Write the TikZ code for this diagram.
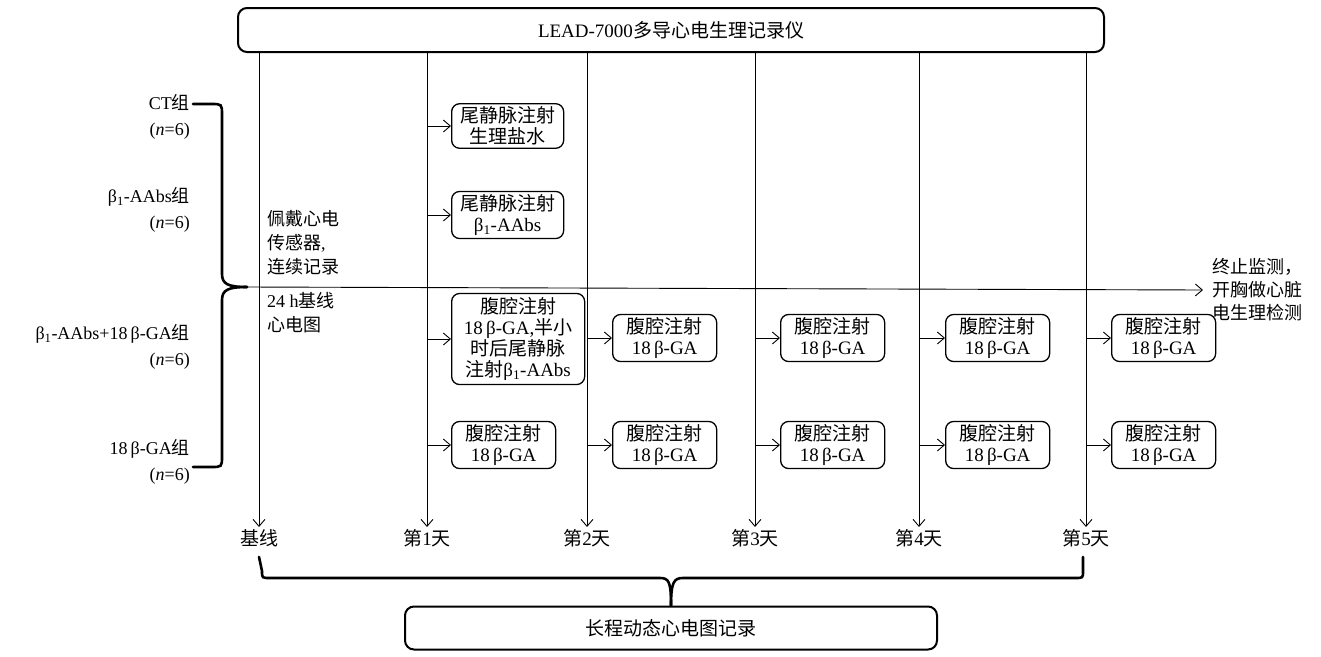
\documentclass[tikz,border=0pt]{standalone}
\usepackage{fontspec}
\setmainfont{Liberation Serif}
\newfontfamily\cjk{Noto Sans CJK SC}
\newcommand\zh[1]{{\cjk #1}}
\newcommand\bsub{β\textsubscript{1}}
\usetikzlibrary{arrows.meta}
\begin{document}
\begin{tikzpicture}[x=1pt,y=-1pt,
  font=\fontsize{19}{21}\selectfont,
  arr/.style={line width=0.9pt,-{Straight Barb[length=7pt,width=12pt]}},
  stepbox/.style={draw,line width=1.3pt,rounded corners=8pt,align=center,inner xsep=6pt,inner ysep=3pt,anchor=west},
  dbox/.style={stepbox,minimum width=104pt},
  bigbox/.style={draw,line width=2pt,rounded corners=9pt},
  brace/.style={line width=2.6pt,line cap=round},
  lbl/.style={align=right,anchor=east,inner sep=0pt,font=\fontsize{18}{26}\selectfont},
  day/.style={anchor=north,inner sep=2pt},
  note/.style={anchor=north west,align=left,inner sep=0pt,font=\fontsize{18}{24}\selectfont},
]
\useasboundingbox (0,0) rectangle (1321,656);

% top and bottom boxes
\node[bigbox,minimum width=866pt,minimum height=44pt] (top) at (671,30) {LEAD-7000\zh{多导心电生理记录仪}};
\node[bigbox,minimum width=532pt,minimum height=43pt] (rec) at (671,628) {\zh{长程动态心电图记录}};

% day labels
\node[day] (l0) at (259,527) {\zh{基线}};
\node[day] (l1) at (427,527) {\zh{第}1\zh{天}};
\node[day] (l2) at (587,527) {\zh{第}2\zh{天}};
\node[day] (l3) at (755,527) {\zh{第}3\zh{天}};
\node[day] (l4) at (919,527) {\zh{第}4\zh{天}};
\node[day] (l5) at (1086,527) {\zh{第}5\zh{天}};

\foreach \i in {0,...,5} \draw[arr] (top.south -| l\i) -- (l\i.north);

% left group labels
\node[lbl] (g1) at (190,117) {CT\zh{组}\\(\textit{n}=6)};
\node[lbl] (g2) at (190,210) {\bsub-AAbs\zh{组}\\(\textit{n}=6)};
\node[lbl] (g3) at (190,347) {\bsub-AAbs+18\,β-GA\zh{组}\\(\textit{n}=6)};
\node[lbl] (g4) at (190,462) {18\,β-GA\zh{组}\\(\textit{n}=6)};

% left brace
\coordinate (bt) at (247,287);
\draw[brace] (193,104) -- (211,104) .. controls (222,104) .. (222,115) -- (222,274)
  .. controls (222,284) and (228,287) .. (bt);
\draw[brace] (193,467) -- (211,467) .. controls (222,467) .. (222,456) -- (222,300)
  .. controls (222,290) and (228,287) .. (bt);

% notes
\node[note] (wear) at (267,210) {\zh{佩戴心电}\\\zh{传感器}, \\\zh{连续记录}};
\node[note] (base) at (267,292) {24 h\zh{基线}\\\zh{心电图}};
\node[anchor=west,align=left,inner xsep=9pt,inner ysep=0pt,font=\fontsize{18}{23}\selectfont] (end) at (1203,290) {\zh{终止监测，}\\\zh{开胸做心脏}\\\zh{电生理检测}};
\draw[arr] (bt) -- (end.west);

% day 1 boxes
\node[stepbox,minimum width=112pt] (a1) at (451,126) {\zh{尾静脉注射}\\\zh{生理盐水}};
\node[stepbox,minimum width=112pt] (a2) at (451,215) {\zh{尾静脉注射}\\\bsub-AAbs};
\node[stepbox,minimum width=133pt,inner ysep=4pt] (a3) at (451,339) {\zh{腹腔注射}\\18\,β-GA,\zh{半小}\\\zh{时后尾静脉}\\\zh{注射}\bsub-AAbs};
\node[dbox] (a4) at (451,445) {\zh{腹腔注射}\\18\,β-GA};
\foreach \n in {a1,a2,a3,a4} \draw[arr] (\n.west -| l1) -- (\n.west);

% days 2-5
\foreach \d/\x in {2/612,3/780,4/945,5/1111}{
  \node[dbox] (b\d) at (\x,338) {\zh{腹腔注射}\\18\,β-GA};
  \node[dbox] (c\d) at (\x,445) {\zh{腹腔注射}\\18\,β-GA};
}
\draw[arr] (b2.west -| l2) -- (b2.west);
\draw[arr] (c2.west -| l2) -- (c2.west);
\draw[arr] (b3.west -| l3) -- (b3.west);
\draw[arr] (c3.west -| l3) -- (c3.west);
\draw[arr] (b4.west -| l4) -- (b4.west);
\draw[arr] (c4.west -| l4) -- (c4.west);
\draw[arr] (b5.west -| l5) -- (b5.west);
\draw[arr] (c5.west -| l5) -- (c5.west);

% bottom brace
\coordinate (bb) at (rec.north);
\draw[brace] (l0.south) ++(0,8) -- (262,571) .. controls (262,578) .. (270,578) -- (660,578)
  .. controls (669,578) and (671,582) .. (bb);
\draw[brace] (l5.south) ++(-3,8) -- (1083,571) .. controls (1083,578) .. (1075,578) -- (683,578)
  .. controls (674,578) and (671,582) .. (bb);
\end{tikzpicture}
\end{document}
